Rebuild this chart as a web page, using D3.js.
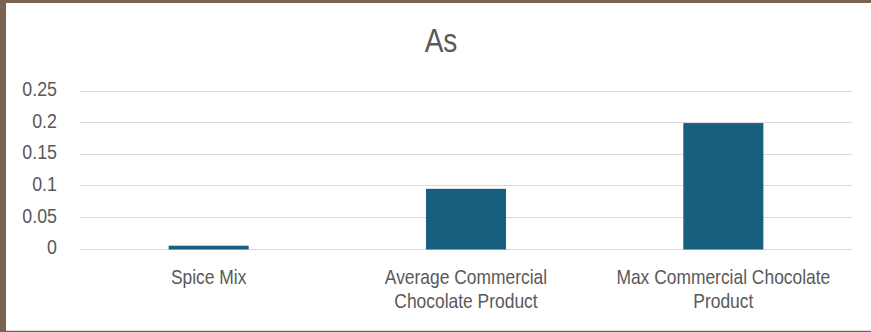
<!DOCTYPE html>
<html>
<head>
<meta charset="utf-8">
<script src="https://cdn.jsdelivr.net/npm/d3@7"></script>
<style>
  html, body { margin: 0; padding: 0; background: #fff; }
  svg { display: block; }
</style>
</head>
<body>
<svg id="chart" width="871" height="332"></svg>
<script>
// Arsenic content by product
const chartTitle = "As";
const categories = [
  ["Spice Mix"],
  ["Average Commercial", "Chocolate Product"],
  ["Max Commercial Chocolate", "Product"]
];
const values = [0.006, 0.096, 0.2];
const tickValues = [0, 0.05, 0.1, 0.15, 0.2, 0.25];
const tickLabels = ["0", "0.05", "0.1", "0.15", "0.2", "0.25"];

const W = 871, H = 332;
const svg = d3.select("#chart");
const labelFont = "'Liberation Sans', Arial, sans-serif";
const textColor = "#595959";
const squeeze = "scale(0.85,1)"; // narrow type, horizontally condensed

// frame
svg.append("rect").attr("x", 0).attr("y", 0).attr("width", W).attr("height", H).attr("fill", "#7b6354");
svg.append("rect").attr("x", 6).attr("y", 3).attr("width", W - 6).attr("height", H - 5).attr("fill", "#fff");
svg.append("line").attr("x1", 6).attr("x2", W).attr("y1", 330.5).attr("y2", 330.5)
  .attr("stroke", "#d9d9d9").attr("stroke-width", 1);

const plot = { left: 80, right: 852, top: 91.5, bottom: 249.5 };

const x = d3.scaleBand()
  .domain(categories.map((c, i) => i))
  .range([plot.left, plot.right])
  .paddingInner(0.689)
  .paddingOuter(0.3445);

const y = d3.scaleLinear()
  .domain([0, 0.25])
  .range([plot.bottom, plot.top]);

// gridlines
svg.append("g")
  .selectAll("line")
  .data(tickValues)
  .join("line")
  .attr("x1", plot.left).attr("x2", plot.right)
  .attr("y1", d => Math.round(y(d)) - 0.5).attr("y2", d => Math.round(y(d)) - 0.5)
  .attr("stroke", "#d9d9d9").attr("stroke-width", 1);

// y axis labels
const yAxis = d3.axisLeft(y)
  .tickValues(tickValues)
  .tickFormat((d, i) => tickLabels[i])
  .tickSize(0)
  .tickPadding(0);
const gy = svg.append("g").attr("transform", "translate(57,0)").call(yAxis);
gy.select(".domain").remove();
gy.selectAll("text")
  .attr("fill", textColor)
  .attr("dy", "0.2em")
  .attr("transform", squeeze)
  .style("font-family", labelFont)
  .style("font-size", "21px");

// bars
svg.append("g")
  .selectAll("rect")
  .data(values)
  .join("rect")
  .attr("x", (d, i) => x(i))
  .attr("width", x.bandwidth())
  .attr("y", d => y(d))
  .attr("height", d => y(0) - y(d))
  .attr("fill", "#175e7f");

// category labels
const catG = svg.append("g")
  .selectAll("g")
  .data(categories)
  .join("g")
  .attr("transform", (d, i) => `translate(${x(i) + x.bandwidth() / 2},284) ${squeeze}`);
catG.append("text")
  .attr("text-anchor", "middle")
  .attr("fill", textColor)
  .style("font-family", labelFont)
  .style("font-size", "20.5px")
  .selectAll("tspan")
  .data(d => d)
  .join("tspan")
  .attr("x", 0)
  .attr("dy", (d, i) => i === 0 ? 0 : 24)
  .text(d => d);

// title
svg.append("g")
  .attr("transform", `translate(441,52) ${squeeze}`)
  .append("text")
  .attr("text-anchor", "middle")
  .attr("fill", textColor)
  .style("font-family", labelFont)
  .style("font-size", "33px")
  .text(chartTitle);
</script>
</body>
</html>
